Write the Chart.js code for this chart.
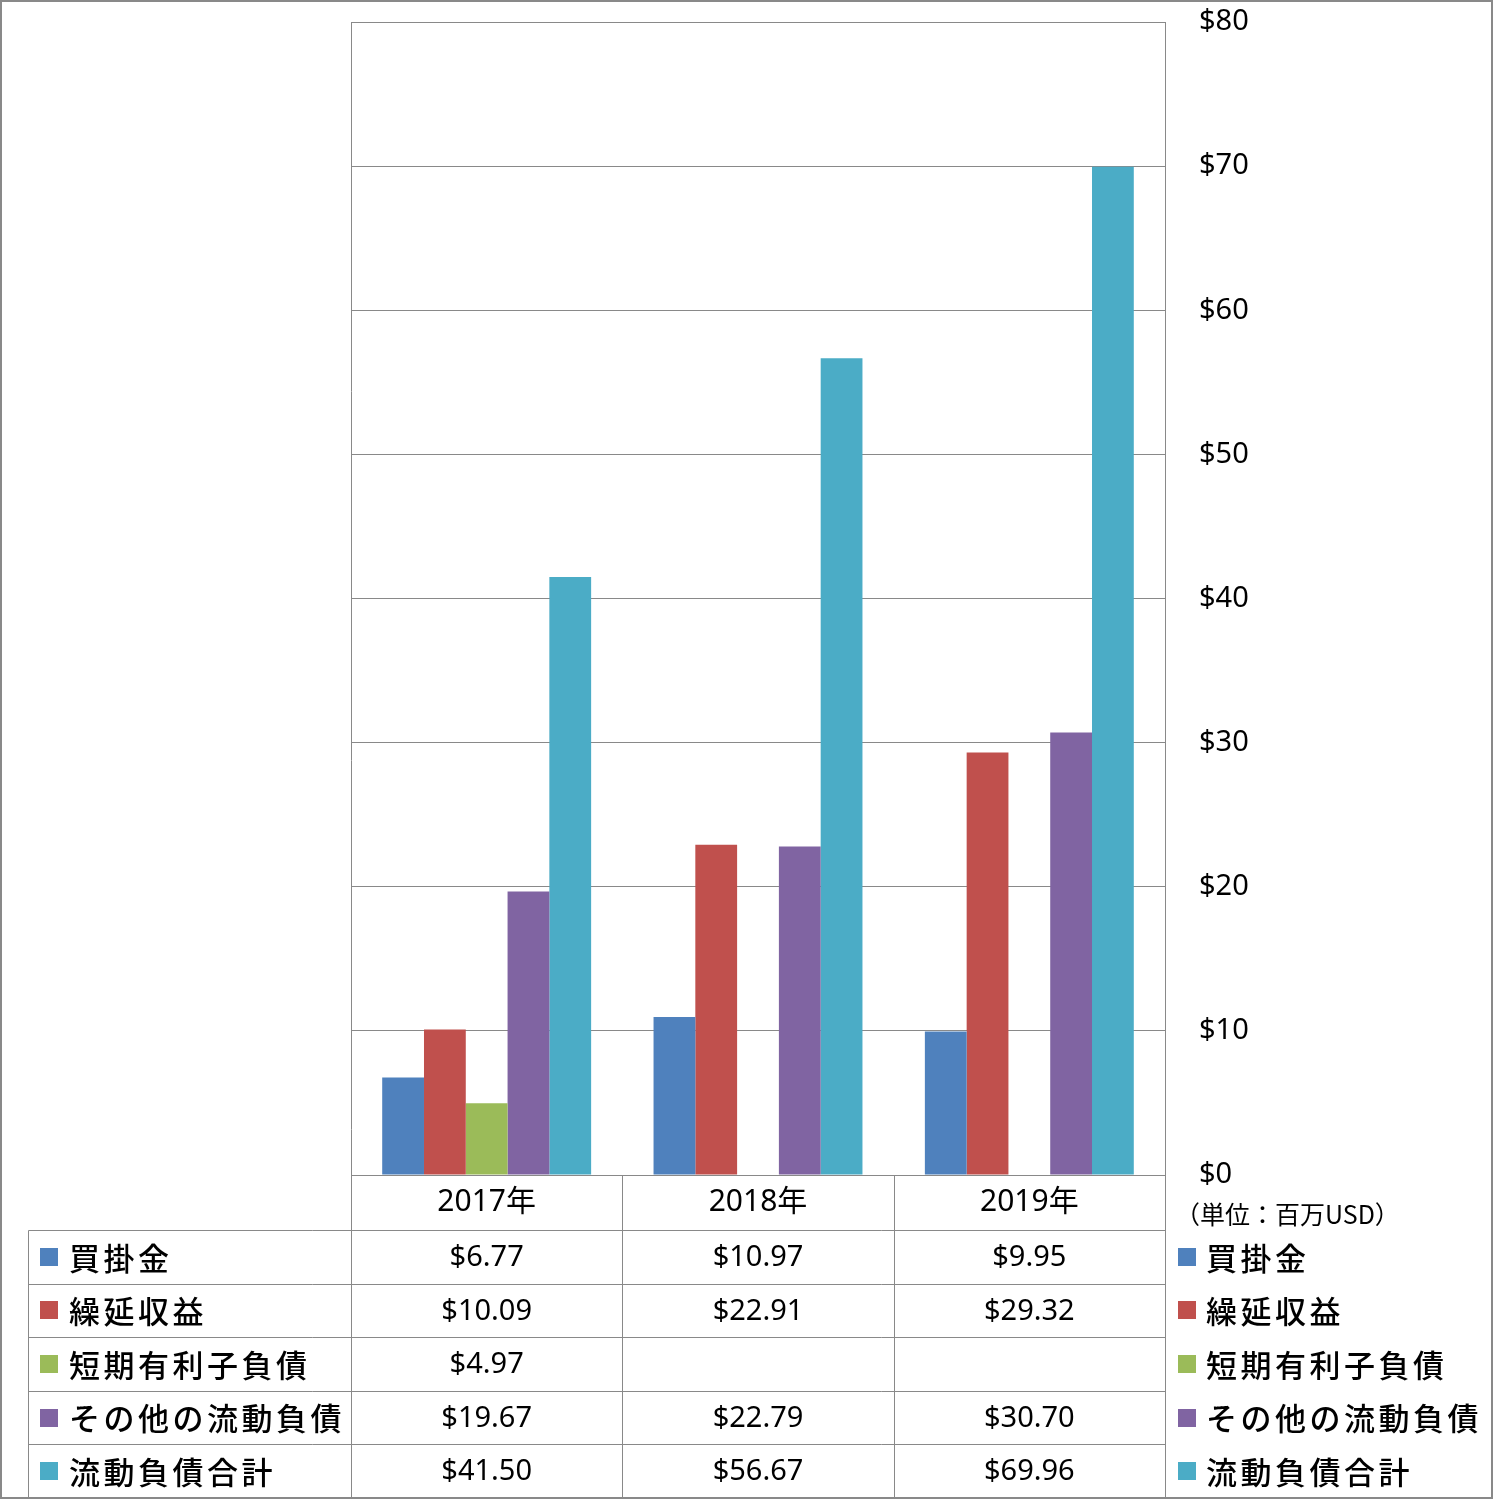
<!DOCTYPE html>
<html>
<head>
<meta charset="utf-8">
<script src="https://cdn.jsdelivr.net/npm/chart.js@4/dist/chart.umd.min.js"></script>
<style>
  html, body { margin: 0; padding: 0; background: #fff; }
  #wrap { width: 1493px; height: 1500px; }
</style>
</head>
<body>
<div id="wrap"><canvas id="grafica" width="1493" height="1500"></canvas></div>
<script>
// datos del grafico
var categorias = ['2017年', '2018年', '2019年'];
var series = ['買掛金', '繰延収益', '短期有利子負債', 'その他の流動負債', '流動負債合計'];
var colores = ['#4F81BD', '#C0504D', '#9BBB59', '#8064A2', '#4BACC6'];

var kaikakekin = [6.77, 10.97, 9.95];
var kurinobe = [10.09, 22.91, 29.32];
var tanki = [4.97, null, null];
var sonota = [19.67, 22.79, 30.70];
var goukei = [41.50, 56.67, 69.96];

var ejeMin = 0;
var ejeMax = 80;
var ejePaso = 10;
var unidad = '（単位：百万USD）';

var valores = [kaikakekin, kurinobe, tanki, sonota, goukei];

var GRIS = '#898989';
var fuenteNum = '"Noto Sans", "Noto Sans CJK JP", sans-serif';
var fuenteJp = '"Noto Sans CJK JP", sans-serif';

// tabla de datos debajo del grafico
const tablaPlugin = {
  id: 'tabla',
  afterDraw(chart) {
    const ctx = chart.ctx;
    const area = chart.chartArea;
    const x = chart.scales.x;
    const n = categorias.length;

    let bordes = [area.left];
    for (let i = 1; i < n; i++) {
      bordes.push((x.getPixelForValue(i - 1) + x.getPixelForValue(i)) / 2);
    }
    bordes.push(area.right);

    const top = area.bottom;
    const cabecera = 55;
    const fondo = 1498;
    const altoFila = (fondo - top - cabecera) / series.length;
    const izq = 28;

    ctx.save();
    ctx.strokeStyle = GRIS;
    ctx.lineWidth = 1;

    const linea = (x1, y1, x2, y2) => {
      ctx.beginPath();
      ctx.moveTo(Math.round(x1) + 0.5, Math.round(y1) + 0.5);
      ctx.lineTo(Math.round(x2) + 0.5, Math.round(y2) + 0.5);
      ctx.stroke();
    };

    // bordes verticales
    linea(area.left, area.top, area.left, fondo);
    linea(area.right, area.top, area.right, fondo);
    for (let i = 1; i < n; i++) linea(bordes[i], top, bordes[i], fondo);
    linea(izq, top + cabecera, izq, fondo);

    // filas
    for (let r = 0; r < series.length; r++) {
      const y = top + cabecera + r * altoFila;
      linea(izq, y, area.right, y);
    }

    // borde exterior
    ctx.lineWidth = 2;
    ctx.strokeRect(1, 1, 1491, 1497);

    ctx.fillStyle = '#000';
    ctx.textBaseline = 'middle';

    // cabecera de anos
    ctx.textAlign = 'center';
    ctx.font = '30px ' + fuenteNum;
    categorias.forEach((c, i) => {
      ctx.fillText(c, x.getPixelForValue(i), top + cabecera / 2);
    });

    // valores
    ctx.font = '29px ' + fuenteNum;
    valores.forEach((serie, r) => {
      const y = top + cabecera + r * altoFila + altoFila / 2 + 1;
      serie.forEach((v, i) => {
        if (v === null) return;
        ctx.fillText('$' + v.toFixed(2), x.getPixelForValue(i), y);
      });
    });

    // leyendas a izquierda y derecha
    ctx.textAlign = 'left';
    ctx.font = '500 31px ' + fuenteJp;
    ctx.letterSpacing = '3.5px';
    series.forEach((s, r) => {
      const y = top + cabecera + r * altoFila + altoFila / 2;
      ctx.fillStyle = colores[r];
      ctx.fillRect(40, Math.round(y - 9), 18, 18);
      ctx.fillRect(area.right + 13, Math.round(y - 9), 18, 18);
      ctx.fillStyle = '#000';
      ctx.fillText(s, 69, y + 1);
      ctx.fillText(s, area.right + 41, y + 1);
    });

    // unidad
    ctx.letterSpacing = '0px';
    ctx.font = '25px ' + fuenteJp;
    ctx.fillText(unidad, area.right + 10, top + 39);

    ctx.restore();
  }
};

new Chart(document.getElementById('grafica'), {
  type: 'bar',
  data: {
    labels: categorias,
    datasets: series.map((s, i) => ({
      label: s,
      data: valores[i],
      backgroundColor: colores[i],
      borderWidth: 0,
      categoryPercentage: 0.77,
      barPercentage: 1.0,
    })),
  },
  options: {
    responsive: false,
    animation: false,
    devicePixelRatio: 1,
    layout: {
      padding: { left: 351, top: 22, bottom: 325, right: 208 },
    },
    plugins: {
      legend: { display: false },
      tooltip: { enabled: false },
    },
    scales: {
      x: {
        display: false,
      },
      y: {
        position: 'right',
        min: ejeMin,
        max: ejeMax,
        ticks: {
          stepSize: ejePaso,
          padding: 2,
          color: '#000',
          font: { family: fuenteNum, size: 29 },
          callback: v => '$' + v,
        },
        grid: {
          color: GRIS,
          lineWidth: 1,
          drawTicks: true,
          tickLength: 32,
          tickColor: 'rgba(0,0,0,0)',
        },
        border: { display: true, color: GRIS },
        afterFit: scale => { scale.width = 120; },
      },
    },
  },
  plugins: [tablaPlugin],
});
</script>
</body>
</html>
